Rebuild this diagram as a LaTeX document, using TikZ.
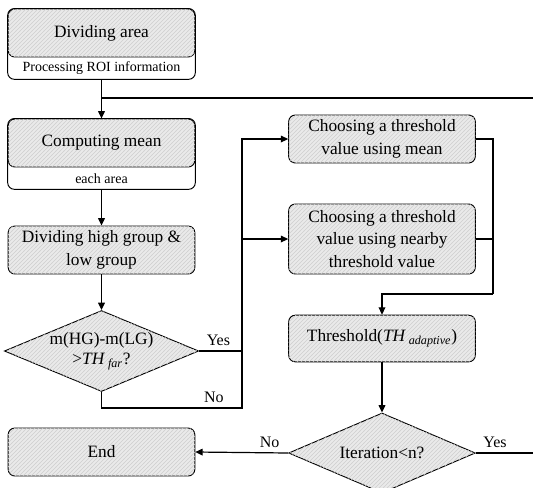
\documentclass[tikz,border=0pt]{standalone}
\usepackage{fontspec}
\setmainfont{Liberation Serif}
\usepackage{tikz}
\usetikzlibrary{arrows.meta,positioning,shapes.geometric,patterns,fit,backgrounds}
\definecolor{boxgray}{HTML}{EAEAEA}
\definecolor{hatch}{HTML}{CFCFCF}
\tikzset{
  ln/.style={line width=0.9pt,black},
  ar/.style={ln,-{Triangle[length=5.5pt,width=5pt]}},
  proc/.style={draw,line width=0.7pt,rounded corners=5pt,fill=boxgray,
    postaction={pattern=north east lines,pattern color=hatch},
    minimum width=140pt,minimum height=36pt,align=center,inner sep=2pt,
    font=\fontsize{13}{17}\selectfont},
  note/.style={minimum width=140pt,minimum height=16pt,inner sep=0pt,
    font=\fontsize{10.5}{12}\selectfont},
  outer/.style={draw,line width=0.7pt,rounded corners=5pt,fill=white,inner sep=0pt},
  decide/.style={diamond,draw,line width=0.7pt,fill=boxgray,
    postaction={pattern=north east lines,pattern color=hatch},
    minimum width=140pt,minimum height=59pt,inner sep=0pt,shape aspect=2.4,
    align=center,font=\fontsize{13}{15}\selectfont},
  lbl/.style={font=\fontsize{12}{14}\selectfont}
}
\begin{document}
\begin{tikzpicture}[x=0.75pt,y=-0.75pt]
\useasboundingbox (0,0) rectangle (533,487);
% left column
\node[proc] (area) at (101.5,33) {Dividing area};
\node[note,below=0pt of area] (areanote) {Processing ROI information};
\node[proc] (mean) at (101.5,143) {Computing mean};
\node[note,below=0pt of mean] (meannote) {each area};
\begin{scope}[on background layer]
\node[outer,fit=(area)(areanote)] (areabox) {};
\node[outer,fit=(mean)(meannote)] (meanbox) {};
\end{scope}
\node[proc] (groups) at (101.5,250) {Dividing high group \&\\low group};
\node[decide] (cmp) at (101.5,351) {m(HG)-m(LG)\\>\textit{TH}\,\textsubscript{\textit{far}}?};
\node[proc] (end) at (101.5,452) {End};
% right column
\node[proc] (meanth) at (382,139) {Choosing a threshold\\value using mean};
\node[proc,minimum height=52.5pt] (nearth) at (382,239) {Choosing a threshold\\value using nearby\\threshold value};
\node[proc,minimum height=35pt] (adapt) at (382,338.5) {Threshold(\textit{TH}\,\textsubscript{\textit{adaptive}})};
\node[decide,minimum height=60pt] (iter) at (382,453) {Iteration<n?};
% junctions
\coordinate (loopin) at (101.5,98);
\coordinate (loopR) at (540,98);
\coordinate (split) at (242,351);
\coordinate (nojoin) at (242,408);
\coordinate (merge) at (493,294);
\coordinate (yesR) at (540,453);
% connectors
\draw[ar] (areanote) -- (mean);
\draw[ln] (loopin) -- (loopR);
\draw[ar] (meannote) -- (groups);
\draw[ar] (groups) -- (cmp);
\draw[ln] (cmp.east) -- node[lbl,above,pos=0.45] {Yes} (split);
\draw[ar] (split) |- (meanth);
\draw[ar] (split) |- (nearth);
\draw[ln] (cmp.south) |- node[lbl,above,pos=0.9] {No} (nojoin) -- (split);
\draw[ln] (meanth.east) -| (merge);
\draw[ln] (nearth.east) -| (merge);
\draw[ar] (merge) -| (adapt);
\draw[ar] (adapt) -- (iter);
\draw[ar] (iter.west) -- node[lbl,above,pos=0.2] {No} (end.east);
\draw[ln] (iter.east) -- node[lbl,above,pos=0.3] {Yes} (yesR);
\end{tikzpicture}
\end{document}
